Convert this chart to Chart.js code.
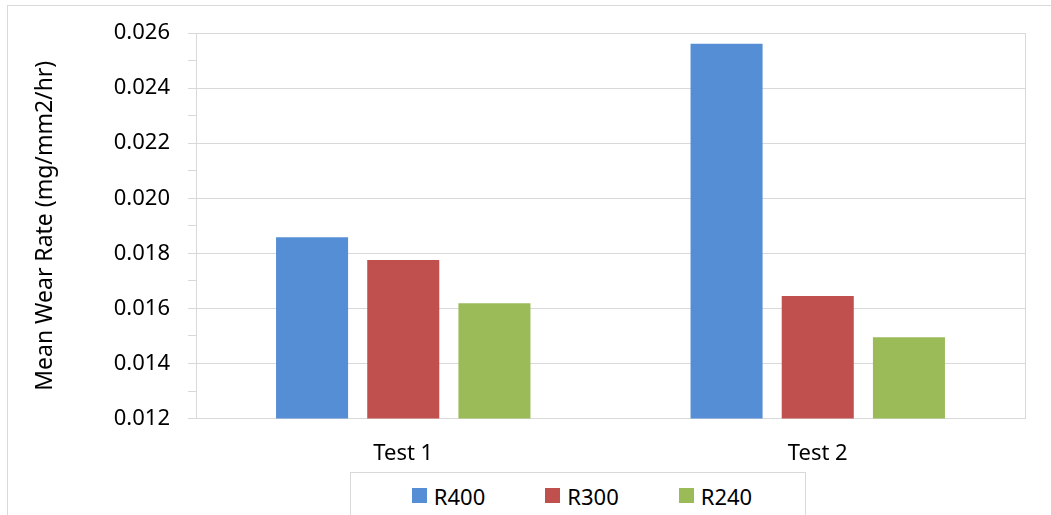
<!DOCTYPE html>
<html lang="en">
<head>
<meta charset="UTF-8">
<title>Mean Wear Rate</title>
<style>
  body {
    margin: 0;
    width: 1051px;
    height: 515px;
    overflow: hidden;
    background: #fff;
    font-family: 'Noto Sans', sans-serif;
    position: relative;
  }
  #frame {
    position: absolute;
    left: 7px;
    top: 5px;
    width: 1100px;
    height: 600px;
    border: 1px solid #d9d9d9;
  }
  #wearChart {
    position: absolute;
    left: 0;
    top: 0;
  }
  #legend {
    position: absolute;
    left: 350px;
    top: 472px;
    width: 456px;
    height: 60px;
    border: 1px solid #d9d9d9;
    background: #fff;
    display: flex;
    justify-content: center;
    padding-left: 8px;
    box-sizing: border-box;
  }
  .item {
    display: flex;
    align-items: center;
    height: 45px;
    font-size: 22px;
    color: #000;
    margin: 0 30px;
  }
  .swatch {
    width: 15px;
    height: 15px;
    margin-right: 7px;
  }
</style>
<script src="https://cdn.jsdelivr.net/npm/chart.js@4/dist/chart.umd.min.js"></script>
</head>
<body>
<div id="frame"></div>
<canvas id="wearChart" width="1051" height="515"></canvas>
<div id="legend"></div>

<script>
// data
const tests = ['Test 1', 'Test 2'];
const seriesNames = ['R400', 'R300', 'R240'];
const r400 = [0.01858, 0.02561];
const r300 = [0.01776, 0.01645];
const r240 = [0.01619, 0.01495];
const seriesColors = ['#558ed5', '#c0504d', '#9bbb59'];

const yMin = 0.012;
const yMax = 0.026;

const gridGrey = '#d9d9d9';
const fontSpec = { family: "'Noto Sans', sans-serif", size: 22 };

const values = [r400, r300, r240];
const datasets = seriesNames.map((name, i) => ({
  label: name,
  data: values[i],
  backgroundColor: seriesColors[i],
  borderWidth: 0,
  barPercentage: 0.79,
  categoryPercentage: 0.66
}));

// minor ticks every 0.001, labels and gridlines only on the even ones
function isMajor(v) {
  return Math.round(v * 1000) % 2 === 0;
}

const ctx = document.getElementById('wearChart').getContext('2d');
const wearChart = new Chart(ctx, {
  type: 'bar',
  data: {
    labels: tests,
    datasets: datasets
  },
  options: {
    responsive: false,
    animation: false,
    layout: {
      padding: { top: 33, right: 26, bottom: 34, left: 0 }
    },
    plugins: {
      legend: { display: false },
      tooltip: { enabled: false }
    },
    scales: {
      x: {
        grid: { display: false },
        border: { display: true, color: gridGrey, width: 1 },
        ticks: {
          color: '#000',
          font: fontSpec,
          padding: 14
        }
      },
      y: {
        min: yMin,
        max: yMax,
        afterFit: function(scale) { scale.width = 196; },
        ticks: {
          stepSize: 0.001,
          color: '#000',
          font: fontSpec,
          padding: 18,
          autoSkip: false,
          callback: function(v) {
            return isMajor(v) ? v.toFixed(3) : '';
          }
        },
        grid: {
          color: function(c) {
            return isMajor(c.tick.value) ? gridGrey : 'rgba(0,0,0,0)';
          },
          tickColor: gridGrey,
          tickLength: 8,
          lineWidth: 1
        },
        border: { color: gridGrey, width: 1 },
        title: {
          display: true,
          text: 'Mean Wear Rate (mg/mm2/hr)',
          color: '#000',
          font: { family: "'Noto Sans', sans-serif", size: 23 },
          padding: { top: 32, bottom: 0 }
        }
      },
      yRight: {
        position: 'right',
        min: yMin,
        max: yMax,
        ticks: { display: false },
        grid: { display: false, drawTicks: false },
        border: { display: true, color: gridGrey, width: 1 }
      }
    }
  }
});

// legend box at the bottom, built from the datasets
const legendEl = document.getElementById('legend');
wearChart.data.datasets.forEach(ds => {
  const item = document.createElement('div');
  item.className = 'item';
  const sw = document.createElement('span');
  sw.className = 'swatch';
  sw.style.background = ds.backgroundColor;
  const txt = document.createElement('span');
  txt.textContent = ds.label;
  item.appendChild(sw);
  item.appendChild(txt);
  legendEl.appendChild(item);
});
</script>
</body>
</html>
